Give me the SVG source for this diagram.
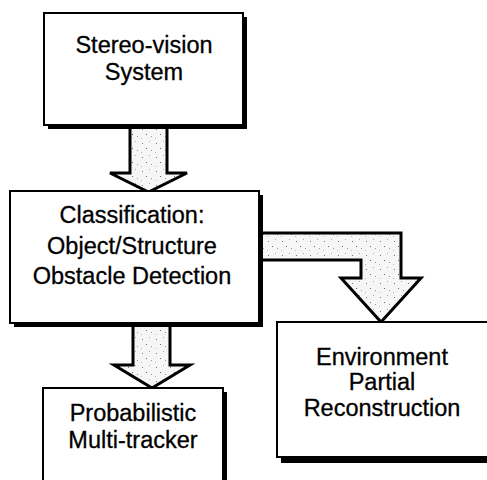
<svg xmlns="http://www.w3.org/2000/svg" width="487" height="480" viewBox="0 0 487 480">
<style>
.box{fill:#fff;stroke:#000;stroke-width:2}
.sh{fill:#000}
.arr{fill:url(#stip);stroke:#000;stroke-width:3;stroke-linejoin:miter}
text{font-family:"Liberation Sans",Arial,sans-serif;font-size:23.5px;fill:#000;stroke:#000;stroke-width:0.3;text-anchor:middle}
</style>
<defs>
<pattern id="stip" width="14" height="14" patternUnits="userSpaceOnUse">
<rect width="14" height="14" fill="#f6f6f6"/>
<rect x="2" y="3" width="1" height="1" fill="#777"/>
<rect x="9" y="1" width="1" height="1" fill="#aaa"/>
<rect x="6" y="8" width="1" height="1" fill="#666"/>
<rect x="11" y="10" width="1" height="1" fill="#999"/>
<rect x="1" y="12" width="1" height="1" fill="#bbb"/>
</pattern>
</defs>
<rect width="487" height="480" fill="#fff"/>
<g id="connectors">
<polygon class="arr" points="130,126 167,126 167,173 187,173 148.5,192 110,173 130,173"/>
<polygon class="arr" points="259,233 401,233 401,278 421,278 381,322 341,278 361,278 361,260 259,260"/>
<polygon class="arr" points="133,324 170,324 170,365 190,365 152,388 114,365 133,365"/>
</g>
<g id="stereo">
<rect class="sh" x="48" y="17" width="199" height="112"/>
<rect class="box" x="44" y="13" width="199" height="112"/>
<text x="144" y="53">Stereo-vision</text>
<text x="144" y="80">System</text>
</g>
<g id="classification">
<rect class="sh" x="14" y="195" width="249" height="132"/>
<rect class="box" x="10" y="191" width="249" height="132"/>
<text x="132" y="223">Classification:</text>
<text x="132" y="254">Object/Structure</text>
<text x="132" y="284">Obstacle Detection</text>
</g>
<g id="environment">
<rect class="sh" x="281" y="326" width="215" height="137"/>
<rect class="box" x="277" y="322" width="215" height="135"/>
<text x="382" y="365">Environment</text>
<text x="382" y="390">Partial</text>
<text x="382" y="416">Reconstruction</text>
</g>
<g id="tracker">
<rect class="sh" x="47" y="392" width="180" height="100"/>
<rect class="box" x="43" y="388" width="180" height="100"/>
<text x="133" y="421">Probabilistic</text>
<text x="133" y="448">Multi-tracker</text>
</g>
</svg>
